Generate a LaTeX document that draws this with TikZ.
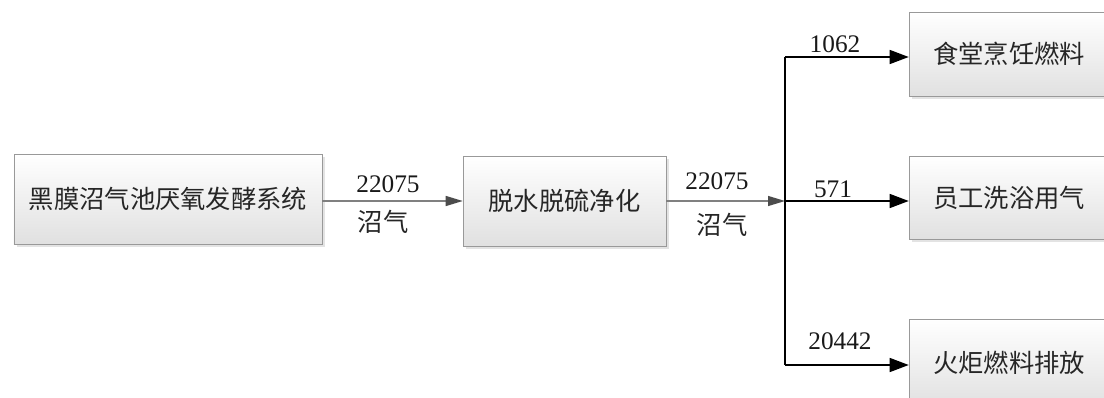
\documentclass[tikz,border=0pt]{standalone}
\usepackage{fontspec}
\setmainfont{Liberation Serif}
\newfontfamily\cjk{Noto Sans CJK SC}
\usetikzlibrary{arrows.meta,shadows}

\tikzset{
  procbox/.style={draw=black!40, top color=white, bottom color=black!12,
    drop shadow={shadow xshift=0.7mm, shadow yshift=-0.7mm, fill=black!22},
    font=\cjk\fontsize{18pt}{21pt}\selectfont, text=black!85, inner sep=0pt},
  flowgrey/.style={draw=black!50, line width=0.9pt, -{Triangle[length=4.25mm, width=2.5mm, color=black!70]}},
  flowblack/.style={draw=black, line width=1pt, -{Triangle[length=4.75mm, width=3.5mm]}},
  numlabel/.style={font=\fontsize{18pt}{21pt}\selectfont, text=black!90, inner sep=0pt},
  gaslabel/.style={font=\cjk\fontsize{18pt}{21pt}\selectfont, text=black!85, inner sep=0pt}
}

\begin{document}
\begin{tikzpicture}[x=0.25mm, y=-0.25mm]
\useasboundingbox (0,0) rectangle (1104,398);

% === LEFT: fermentation and purification ===
\node[procbox, minimum width=77mm, minimum height=22.5mm] (ferment) at (168,199) {黑膜沼气池厌氧发酵系统};
\node[procbox, minimum width=50.75mm, minimum height=22.5mm] (purify) at (564.5,201) {脱水脱硫净化};

\draw[flowgrey] (ferment.east |- purify) -- (purify.west);
\node[numlabel] (qin) at (388,184) {22075};
\node[gaslabel] (gasin) at (383,222) {沼气};

% === SPLIT into three uses ===
\coordinate (split) at (785,201);
\coordinate (top) at (785,57);
\coordinate (bot) at (785,365);

\draw[flowgrey] (purify.east) -- (split);
\node[numlabel] (qout) at (717,181) {22075};
\node[gaslabel] (gasout) at (722,225) {沼气};

\draw[line width=1pt] (top) -- (bot);

% === RIGHT: consumers ===
\node[procbox, minimum width=50mm, minimum height=21mm] (canteen) at (1009,54) {食堂烹饪燃料};
\node[procbox, minimum width=50mm, minimum height=20.75mm] (bath) at (1009,198) {员工洗浴用气};
\node[procbox, minimum width=50mm, minimum height=22mm] (flare) at (1009,363) {火炬燃料排放};

\draw[flowblack] (top) -- (top -| canteen.west);
\draw[flowblack] (split) -- (split -| bath.west);
\draw[flowblack] (bot) -- (bot -| flare.west);

\node[numlabel] (q1) at (835,44) {1062};
\node[numlabel] (q2) at (833,189) {571};
\node[numlabel] (q3) at (840,341) {20442};

\end{tikzpicture}
\end{document}
